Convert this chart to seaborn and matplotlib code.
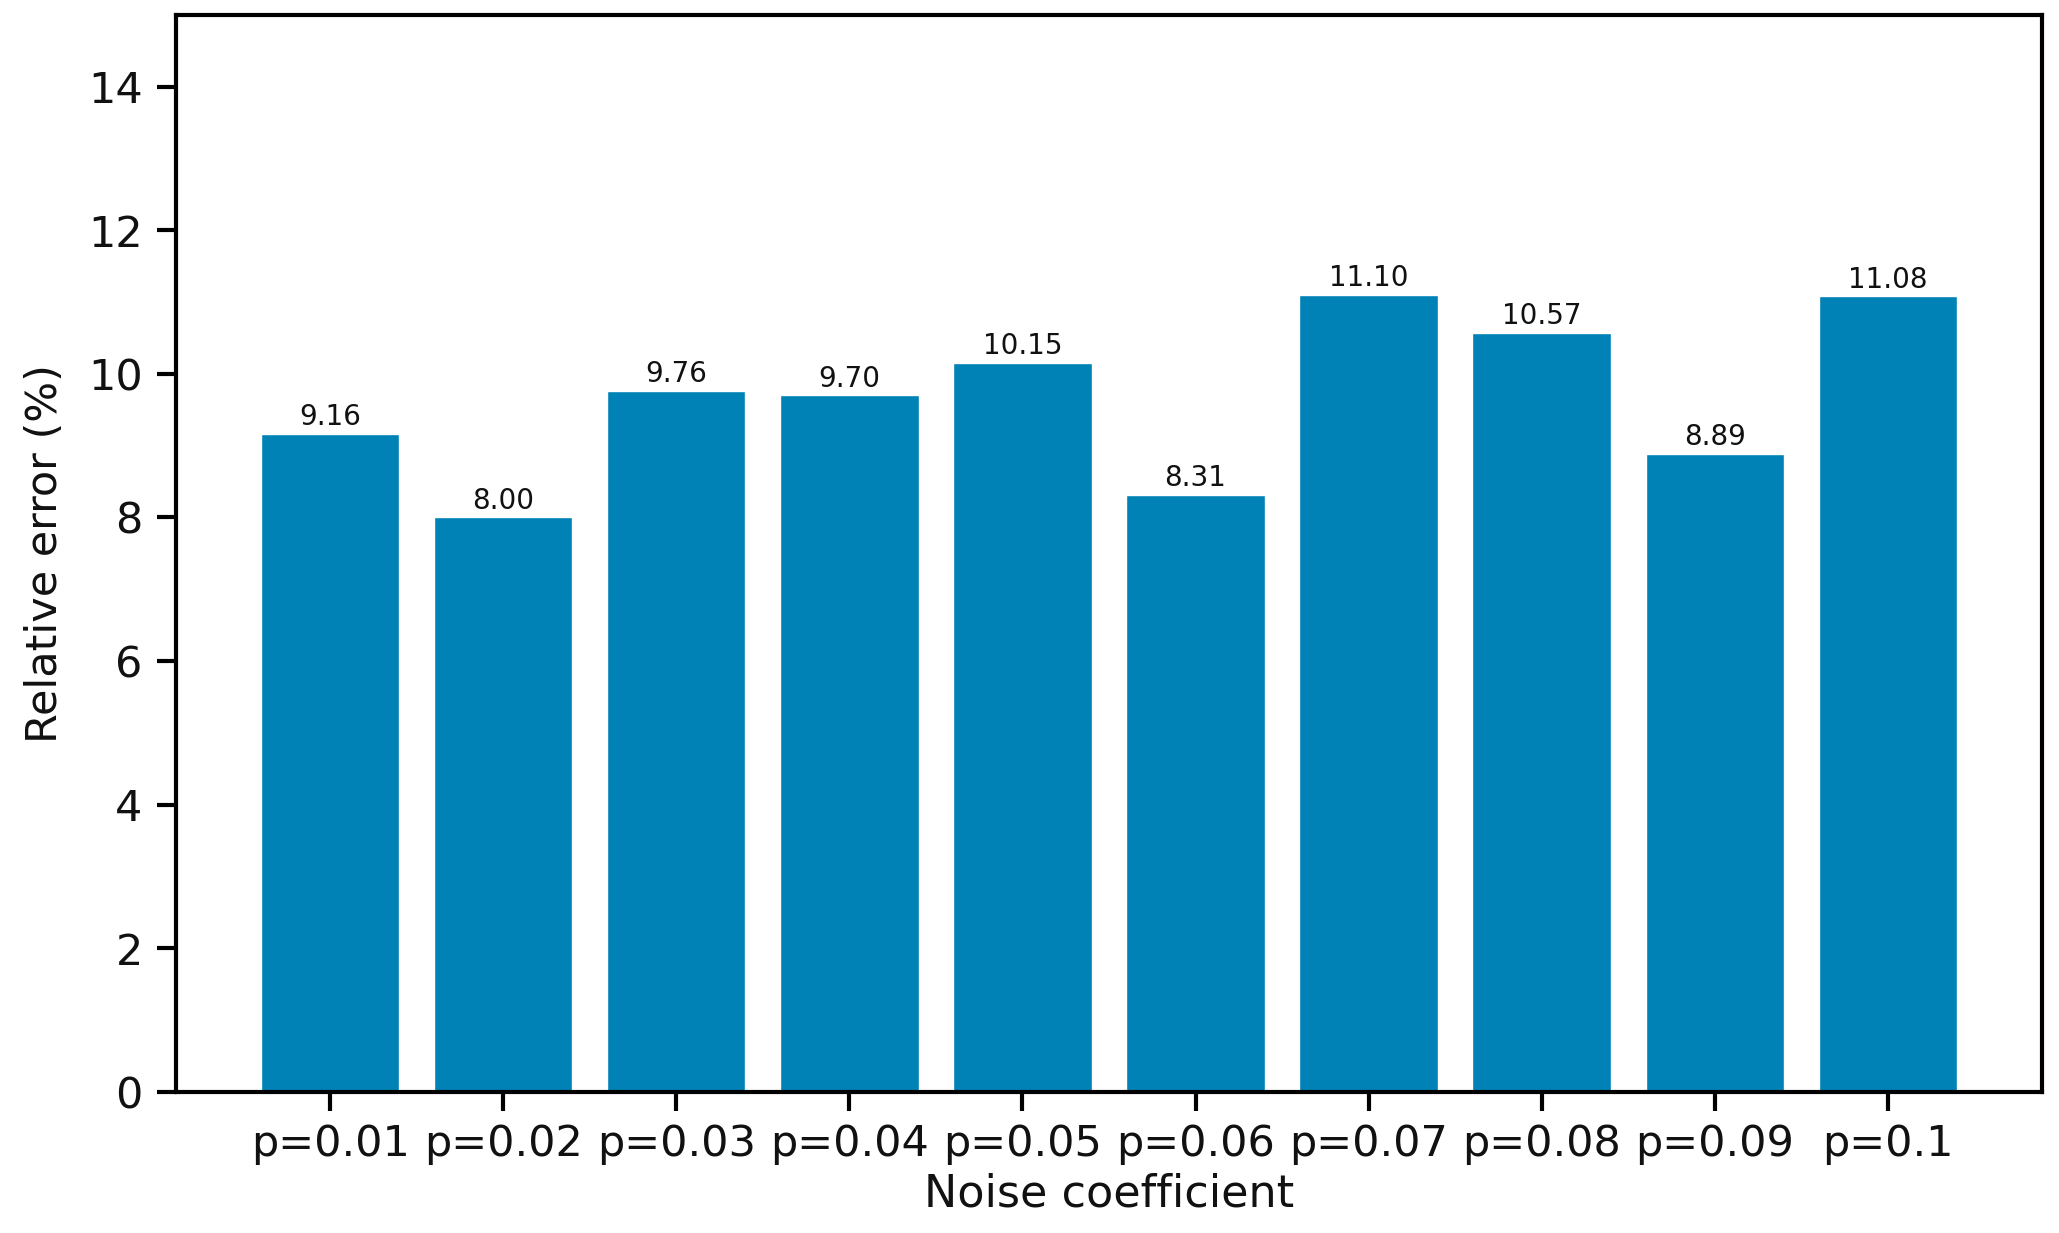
import matplotlib
matplotlib.use("Agg")
import matplotlib.pyplot as plt
import seaborn as sns
import pandas as pd

categories = ["p=0.01", "p=0.02", "p=0.03", "p=0.04", "p=0.05",
              "p=0.06", "p=0.07", "p=0.08", "p=0.09", "p=0.1"]
rel_error = [9.16, 8.00, 9.76, 9.70, 10.15, 8.31, 11.10, 10.57, 8.89, 11.08]
y_ticks = [0, 2, 4, 6, 8, 10, 12, 14]

sns.set_style("ticks")
plt.rcParams['font.family'] = ['DejaVu Sans']

df = pd.DataFrame({"cat": categories, "val": rel_error})

fig = plt.figure(figsize=(20.59, 12.33), dpi=100)
ax = fig.add_axes([0.0855, 0.1144, 0.9062, 0.8736])

sns.barplot(data=df, x="cat", y="val", color="#0082B6", saturation=1,
            width=0.8, ax=ax, errorbar=None)
ax.set_xlim(-0.89, 9.89)
ax.set_ylim(0, 15)
ax.set_yticks(y_ticks)

for c in ax.containers:
    ax.bar_label(c, fmt="%.2f", fontsize=20, padding=2, color="#111111")

ax.set_xlabel("Noise coefficient", fontsize=32, color="#111111", labelpad=6)
ax.set_ylabel("Relative error (%)", fontsize=31, color="#111111", labelpad=16)
ax.tick_params(axis="both", labelsize=31, length=14, width=3, colors="black",
               labelcolor="#111111")
ax.tick_params(axis="x", pad=8)
ax.tick_params(axis="y", pad=10)
for s in ax.spines.values():
    s.set_linewidth(3)
    s.set_visible(True)
    s.set_color("black")

fig.savefig("out.png", dpi=100)
